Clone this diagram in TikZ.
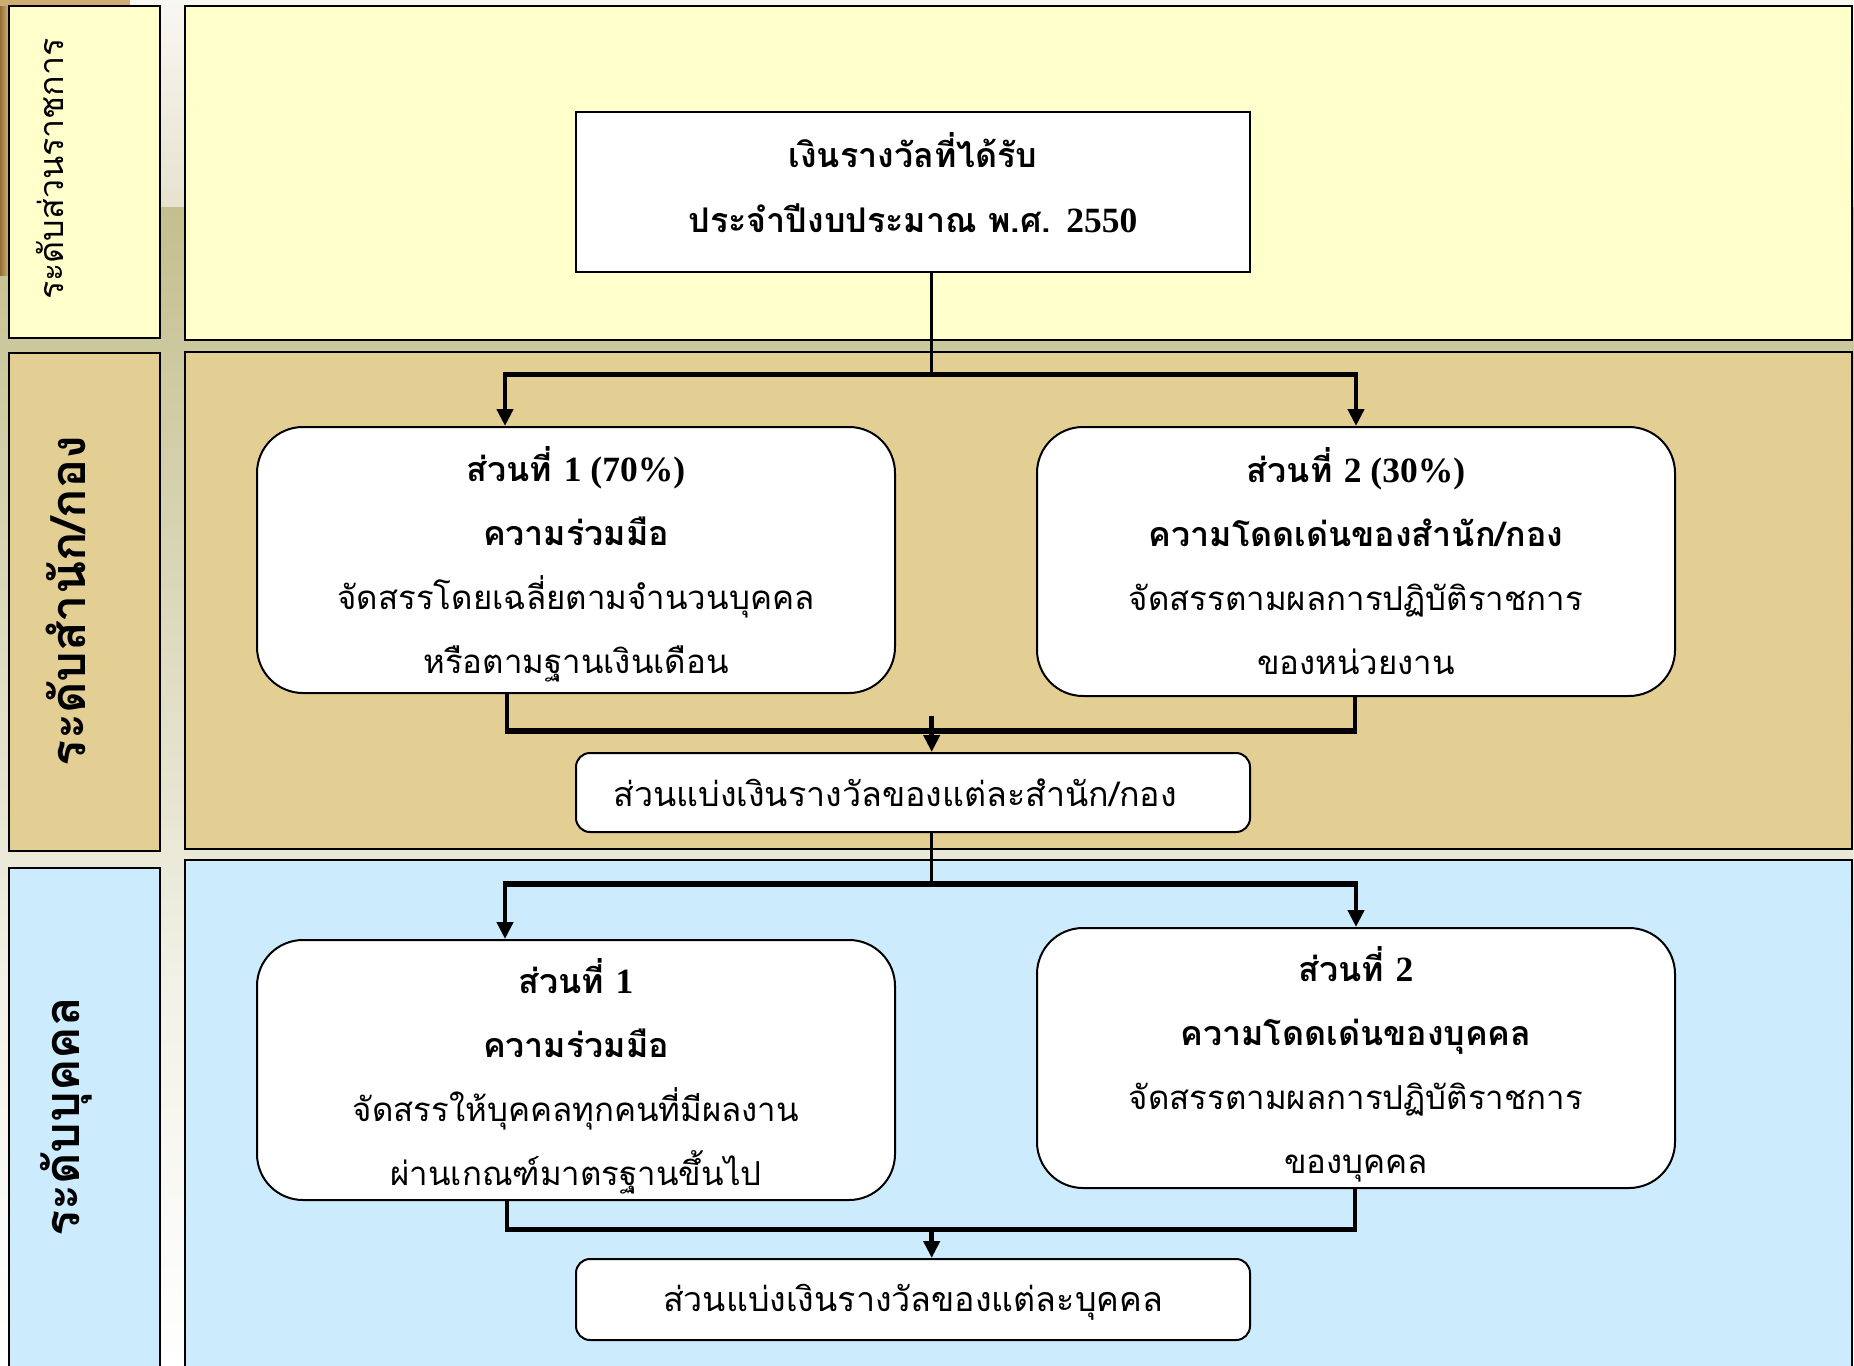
\documentclass[tikz,border=0pt]{standalone}
\usepackage{fontspec}
\setmainfont{Liberation Serif}
\newfontfamily\thai[Script=Thai]{Loma}
\usetikzlibrary{arrows.meta,calc}
\definecolor{pyellow}{HTML}{FFFFCC}
\definecolor{ptan}{HTML}{E3CF94}
\definecolor{pblue}{HTML}{CCECFE}
\definecolor{bgkhaki}{HTML}{C4BF8E}
\definecolor{bgtop}{HTML}{F8F7F2}
\definecolor{bgmid}{HTML}{E7E2CF}
\definecolor{bglow}{HTML}{F3F2E8}
\definecolor{gold}{HTML}{B88A3A}
\newcommand\lat[1]{{\rmfamily\bfseries\fontsize{35.5}{64}\selectfont #1}}
\newcommand\bt[1]{{\bfseries\fontsize{34}{64}\selectfont #1}}
\begin{document}
\begin{tikzpicture}[x=1pt,y=-1pt,
  panel/.style={draw=black,line width=2.5pt},
  rbox/.style={draw=black,fill=white,line width=2pt,rounded corners=46pt,
    minimum width=638pt,inner sep=0pt},
  sbox/.style={draw=black,fill=white,line width=2pt,rounded corners=14pt,
    minimum width=674pt,inner sep=0pt},
  txt/.style={align=center,inner sep=0pt,font=\thai\fontsize{33}{64}\selectfont},
  stxt/.style={align=center,inner sep=0pt,font=\thai\fontsize{34}{40}\selectfont},
  conn/.style={line width=3.5pt},
  bar/.style={line width=5.5pt},
  arr/.style={line width=4.5pt,-{Triangle[length=17pt,width=16pt]}},
  lab/.style={rotate=90,font=\thai\bfseries\fontsize{48.5}{50}\selectfont,inner sep=0pt}
]
\useasboundingbox (0,0) rectangle (1854,1365);
% background
\fill[top color=bgtop,bottom color=bgmid] (0,0) rectangle (1854,207);
\fill[top color=bgkhaki,bottom color=bglow] (0,207) rectangle (1854,1000);
\fill[top color=bglow,bottom color=white] (0,1000) rectangle (1854,1365);
\fill[left color=gold!80!black,right color=gold!60] (0,0) rectangle (9,275);
\fill[gold!70] (0,0) rectangle (130,6);
% panels
\draw[panel,fill=pyellow] (9,6) rectangle (160,338);
\draw[panel,fill=pyellow] (185,6) rectangle (1852,340);
\draw[panel,fill=ptan] (9,353) rectangle (160,851);
\draw[panel,fill=ptan] (185,352) rectangle (1852,849);
\draw[panel,fill=pblue] (9,868) rectangle (160,1380);
\draw[panel,fill=pblue] (185,860) rectangle (1852,1380);
% level labels
\node[lab,font=\thai\fontsize{34}{40}\selectfont] (l1) at (50,169) {ระดับส่วนราชการ};
\node[lab] (l2) at (66,601) {ระดับสำนัก/กอง};
\node[lab] (l3) at (66,1117) {ระดับบุคคล};
% boxes
\node[draw=black,fill=white,line width=2pt,minimum width=674pt,minimum height=160pt,inner sep=0pt]
  (top) at (913,192) {};
\node[txt,font=\thai\bfseries\fontsize{34}{65}\selectfont] (topt) at ([yshift=9pt]top.center)
  {เงินรางวัลที่ได้รับ\\ประจำปีงบประมาณ พ.ศ. \lat{2550}};
\node[rbox,minimum height=266pt] (b1) at (576,560) {};
\node[txt] (b1t) at ([yshift=-4pt]b1.center)
  {\bt{ส่วนที่ \lat{1 (70\%)}}\\\bt{ความร่วมมือ}\\จัดสรรโดยเฉลี่ยตามจำนวนบุคคล\\หรือตามฐานเงินเดือน};
\node[rbox,minimum height=269pt] (b2) at (1356,561.5) {};
\node[txt] (b2t) at ([yshift=0pt]b2.center)
  {\bt{ส่วนที่ \lat{2 (30\%)}}\\\bt{ความโดดเด่นของสำนัก/กอง}\\จัดสรรตามผลการปฏิบัติราชการ\\ของหน่วยงาน};
\node[sbox,minimum height=79pt] (b3) at (913,792.5) {};
\node[stxt] (b3t) at ([xshift=-18pt]b3.center) {ส่วนแบ่งเงินรางวัลของแต่ละสำนัก/กอง};
\node[rbox,minimum height=260pt] (b4) at (576,1070) {};
\node[txt] (b4t) at ([yshift=-6pt]b4.center)
  {\bt{ส่วนที่ \lat{1}}\\\bt{ความร่วมมือ}\\จัดสรรให้บุคคลทุกคนที่มีผลงาน\\ผ่านเกณฑ์มาตรฐานขึ้นไป};
\node[rbox,minimum height=260pt] (b5) at (1356,1058) {};
\node[txt] (b5t) at ([yshift=-6.5pt]b5.center)
  {\bt{ส่วนที่ \lat{2}}\\\bt{ความโดดเด่นของบุคคล}\\จัดสรรตามผลการปฏิบัติราชการ\\ของบุคคล};
\node[sbox,minimum height=81pt] (b6) at (913,1299.5) {};
\node[stxt] (b6t) at ([yshift=-3pt]b6.center) {ส่วนแบ่งเงินรางวัลของแต่ละบุคคล};
% junction coordinates
\coordinate (s1) at (931.7,374.5);
\coordinate (m1) at (931.7,731);
\coordinate (s2) at (931.7,884);
\coordinate (m2) at (931.7,1229.7);
% split 1
\draw[conn] (top.south -| s1) -- (s1);
\draw[bar] (503,374.5) -- (1358,374.5);
\draw[arr] (505,374.5) -- (505,0 |- b1.north);
\draw[arr] (s1 -| b2.north) -- (b2.north);
% merge 1
\draw[conn] (507,0 |- b1.south) -- (507,731);
\draw[conn] (1355,0 |- b2.south) -- (1355,731);
\draw[bar] (505,731) -- (1357,731);
\draw[arr] (931.7,716) -- (b3.north -| m1);
% split 2
\draw[conn] (b3.south -| s2) -- (s2);
\draw[bar] (503,884) -- (1358,884);
\draw[arr] (505,884) -- (505,0 |- b4.north);
\draw[arr] (s2 -| b5.north) -- (b5.north);
% merge 2
\draw[conn] (507,0 |- b4.south) -- (507,1229.7);
\draw[conn] (1355,0 |- b5.south) -- (1355,1229.7);
\draw[bar] (505,1229.7) -- (1357,1229.7);
\draw[arr] (m2) -- (b6.north -| m2);
\end{tikzpicture}
\end{document}
